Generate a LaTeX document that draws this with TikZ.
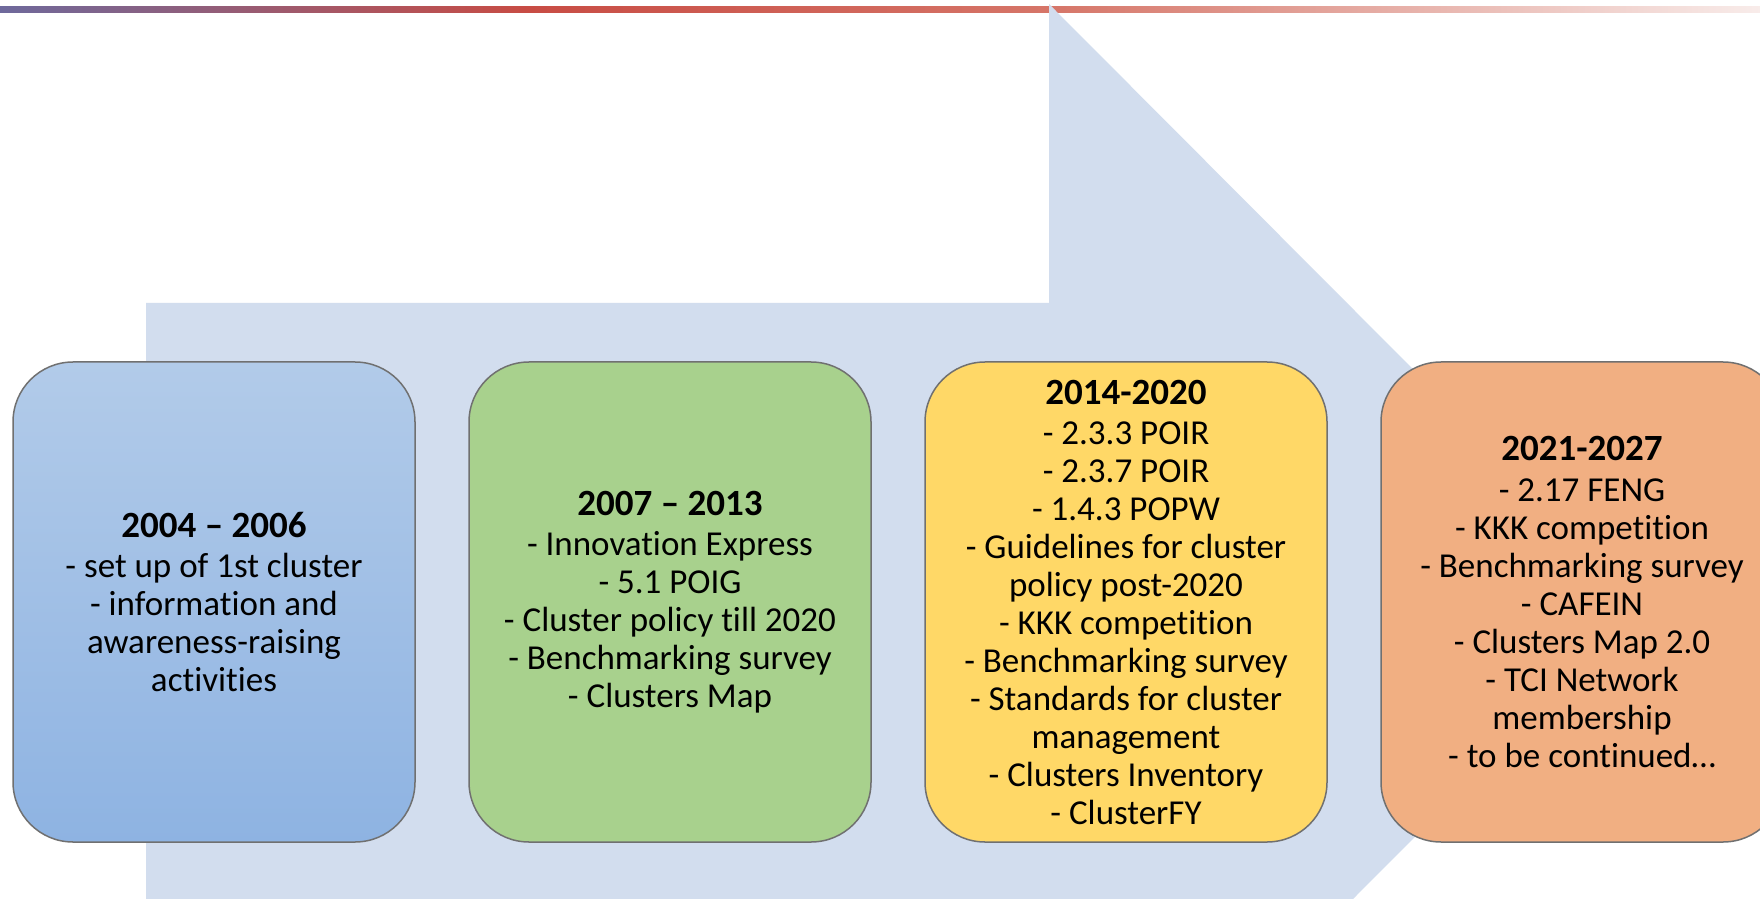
\documentclass[tikz,border=0pt]{standalone}
\usepackage{fontspec}
\setmainfont{Carlito}[Ligatures=NoCommon]
\usetikzlibrary{positioning}
\definecolor{arrowfill}{HTML}{D2DDEE}
\definecolor{boxline}{HTML}{707070}
\definecolor{bluetop}{HTML}{B2CBE9}
\definecolor{bluebottom}{HTML}{8EB3E2}
\definecolor{greenfill}{HTML}{A8D18D}
\definecolor{yellowfill}{HTML}{FFD867}
\definecolor{orangefill}{HTML}{F1AF82}
\definecolor{barpurple}{HTML}{6E699C}
\definecolor{barred}{HTML}{C84C44}
\definecolor{barsalmon}{HTML}{D67669}
\definecolor{barpale}{HTML}{F8ECEA}
\pgfdeclarehorizontalshading{topbar}{100bp}{color(0bp)=(barpurple); color(25bp)=(barpurple); color(40bp)=(barred); color(55bp)=(barsalmon); color(75bp)=(barpale); color(100bp)=(barpale)}
\newcommand{\yeartitle}[1]{{\fontsize{37}{38}\selectfont\bfseries #1}\\[2pt]}
\tikzset{
  period/.style={draw=boxline, line width=1.5pt, rounded corners=60pt,
    minimum width=402pt, minimum height=480pt, inner sep=0pt,
    align=center, font=\fontsize{35}{38}\selectfont},
}
\begin{document}
\begin{tikzpicture}[x=1pt, y=1pt]
      \useasboundingbox (0, 0) rectangle (1760, 898);
      \clip (0, 0) rectangle (1760, 898);
      \fill[white] (0, 0) rectangle (1760, 898);
      \shade[shading=topbar] (0, 885) rectangle (1760, 891);
      \fill[arrowfill] (146, -7) -- (146, 595) -- (1049, 595) -- (1049, 894)
        -- (1647, 294) -- (1049, -306) -- (1049, -7) -- cycle;

      \node[period, top color=bluetop, bottom color=bluebottom] (p1) at (214, 296)
        {\yeartitle{2004 – 2006}- set up of 1st cluster\\- information and\\awareness-raising\\activities};
      \node[period, fill=greenfill, right=52.5pt of p1] (p2)
        {\yeartitle{2007 – 2013}- Innovation Express\\- 5.1 POIG\\- Cluster policy till 2020\\- Benchmarking survey\\- Clusters Map};
      \node[period, fill=yellowfill, right=52.5pt of p2] (p3)
        {\yeartitle{2014-2020}- 2.3.3 POIR\\- 2.3.7 POIR\\- 1.4.3 POPW\\- Guidelines for cluster\\policy post-2020\\- KKK competition\\- Benchmarking survey\\- Standards for cluster\\management\\- Clusters Inventory\\- ClusterFY};
      \node[period, fill=orangefill, right=52.5pt of p3] (p4)
        {\yeartitle{2021-2027}- 2.17 FENG\\- KKK competition\\- Benchmarking survey\\- CAFEIN\\- Clusters Map 2.0\\- TCI Network\\membership\\- to be continued…};
    \end{tikzpicture}
\end{document}
